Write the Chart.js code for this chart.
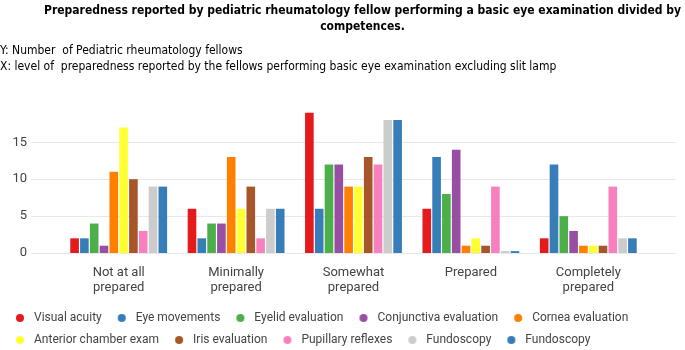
<!DOCTYPE html>
<html>
<head>
<meta charset="utf-8">
<script src="https://cdn.jsdelivr.net/npm/chart.js@4.4.0/dist/chart.umd.min.js"></script>
<style>
  html, body { margin: 0; padding: 0; background: #fff; overflow: hidden; }
  #wrap { position: relative; width: 685px; height: 350px; overflow: hidden; }
  #title {
    position: absolute; left: 40px; width: 645px; top: 2px;
    text-align: center; color: #000;
    font: bold 12px "DejaVu Sans Condensed", "DejaVu Sans", sans-serif;
    font-stretch: condensed; line-height: 16px;
  }
  .note {
    position: absolute; left: 0; white-space: pre; color: #000;
    font: 12px "Liberation Sans Narrow", "DejaVu Sans Condensed", sans-serif;
    font-stretch: condensed;
  }
  #chart { position: absolute; left: 0; top: 0; }
</style>
</head>
<body>
<div id="wrap">
  <canvas id="chart" width="685" height="356"></canvas>
  <div id="title">Preparedness reported by pediatric rheumatology fellow performing a basic eye examination divided by<br>competences.</div>
  <div class="note" style="top:43px">Y: Number  of Pediatric rheumatology fellows</div>
  <div class="note" style="top:59px">X: level of  preparedness reported by the fellows performing basic eye examination excluding slit lamp</div>
</div>
<script>
// categories (x axis) and series
const categories = [['Not at all', 'prepared'], ['Minimally', 'prepared'], ['Somewhat', 'prepared'], 'Prepared', ['Completely', 'prepared']];
const seriesNames = ['Visual acuity', 'Eye movements', 'Eyelid evaluation', 'Conjunctiva evaluation', 'Cornea evaluation',
                     'Anterior chamber exam', 'Iris evaluation', 'Pupillary reflexes', 'Fundoscopy', 'Fundoscopy'];
const seriesColors = ['#e41a1c', '#377eb8', '#4daf4a', '#984ea3', '#ff7f00',
                      '#ffff33', '#a65628', '#f781bf', '#cccccc', '#377eb8'];

const visualAcuity    = [2, 6, 19, 6, 2];
const eyeMovements    = [2, 2, 6, 13, 12];
const eyelid          = [4, 4, 12, 8, 5];
const conjunctiva     = [1, 4, 12, 14, 3];
const cornea          = [11, 13, 9, 1, 1];
const anteriorChamber = [17, 6, 9, 2, 1];
const iris            = [10, 9, 13, 1, 1];
const pupillary       = [3, 2, 12, 9, 9];
const fundoscopyA     = [9, 6, 18, 0, 2];
const fundoscopyB     = [9, 6, 18, 0, 2];

const yTicks = [0, 5, 10, 15];

const seriesValues = [visualAcuity, eyeMovements, eyelid, conjunctiva, cornea,
                      anteriorChamber, iris, pupillary, fundoscopyA, fundoscopyB];

// small round marker for the legend (sits a bit right inside its box)
function dotStyle(color) {
    const c = document.createElement('canvas');
    c.width = 18;
    c.height = 10;
    const g = c.getContext('2d');
    g.fillStyle = color;
    g.beginPath();
    g.arc(10, 5, 4, 0, Math.PI * 2);
    g.fill();
    return c;
}

// grid lines run wider than the plot area in the original
const wideGrid = {
    id: 'wideGrid',
    beforeDatasetsDraw(chart) {
        const ctx = chart.ctx;
        const y = chart.scales.y;
        ctx.save();
        ctx.strokeStyle = '#e8e8e8';
        ctx.lineWidth = 1;
        yTicks.forEach(v => {
            const py = Math.round(y.getPixelForValue(v)) + 0.5;
            ctx.beginPath();
            ctx.moveTo(31, py);
            ctx.lineTo(676, py);
            ctx.stroke();
        });
        ctx.restore();
    }
};

const chart = new Chart(document.getElementById('chart'), {
    type: 'bar',
    data: {
        labels: categories,
        datasets: seriesNames.map((name, i) => ({
            label: name,
            data: seriesValues[i],
            backgroundColor: seriesColors[i],
            borderWidth: 0,
            minBarLength: 2,
            barPercentage: 0.88,
            categoryPercentage: 0.835,
        })),
    },
    options: {
        responsive: false,
        animation: false,
        layout: {
            padding: { left: 0, right: 38, top: 109, bottom: 0 },
        },
        plugins: {
            title: { display: false },
            tooltip: { enabled: false },
            legend: {
                position: 'bottom',
                align: 'start',
                labels: {
                    usePointStyle: true,
                    pointStyleWidth: 18,
                    boxHeight: 10,
                    padding: 10,
                    color: '#444',
                    font: { family: 'Roboto', size: 12 },
                    generateLabels(chart) {
                        const items = Chart.defaults.plugins.legend.labels.generateLabels(chart);
                        items.forEach((it, i) => {
                            it.pointStyle = dotStyle(seriesColors[i]);
                            it.lineWidth = 0;
                        });
                        return items;
                    },
                },
            },
        },
        scales: {
            x: {
                grid: { display: false, drawTicks: false },
                border: { display: false },
                afterFit(scale) {
                    scale.height -= 5;
                },
                ticks: {
                    color: '#444',
                    padding: 12,
                    maxRotation: 0,
                    autoSkip: false,
                    font: { family: 'Roboto', size: 13, lineHeight: 1.15 },
                },
            },
            y: {
                min: 0,
                max: 19.5,
                grid: { display: false, drawTicks: false },
                border: { display: false },
                afterBuildTicks(scale) {
                    scale.ticks = yTicks.map(v => ({ value: v }));
                },
                afterFit(scale) {
                    scale.width = 60;
                },
                ticks: {
                    color: '#444',
                    padding: 33,
                    font: { family: 'Roboto', size: 13 },
                },
            },
        },
    },
    plugins: [wideGrid],
});
</script>
</body>
</html>
